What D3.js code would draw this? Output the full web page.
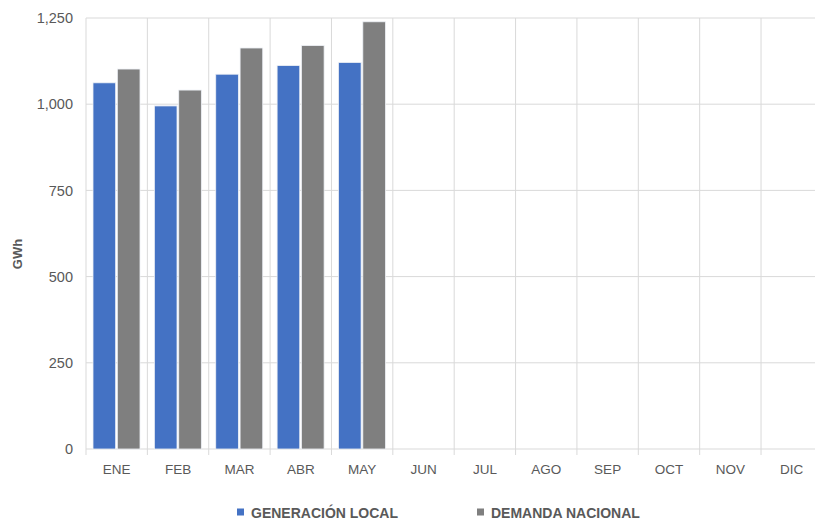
<!DOCTYPE html>
<html>
<head>
<meta charset="utf-8">
<script src="https://cdn.jsdelivr.net/npm/d3@7"></script>
<style>
  body { margin: 0; background: #fff; }
  svg { display: block; font-family: "Liberation Sans", Arial, sans-serif; }
  .tick text { fill: #595959; }
</style>
</head>
<body>
<svg id="chart"></svg>
<script>
const months = ["ENE","FEB","MAR","ABR","MAY","JUN","JUL","AGO","SEP","OCT","NOV","DIC"];
const series = ["GENERACIÓN LOCAL","DEMANDA NACIONAL"];
const generacion = [1062, 995, 1087, 1112, 1121];
const demanda = [1102, 1041, 1163, 1170, 1239];
const yTicks = [0, 250, 500, 750, 1000, 1250];
const colors = ["#4472c4", "#7f7f7f"];

const w = 815, h = 520;
const plotLeft = 86, plotRight = 822.4, plotTop = 18, plotBottom = 449;

const svg = d3.select("#chart")
              .attr("width", w)
              .attr("height", h)

const x = d3.scaleBand()
            .domain(months)
            .range([plotLeft, plotRight]);

const x1 = d3.scaleBand()
             .domain(series)
             .range([7, 54])
             .paddingInner(0.07);

const y = d3.scaleLinear()
            .domain([0, 1250])
            .range([plotBottom, plotTop]);

// horizontal grid
svg.append("g")
   .selectAll("line")
   .data(yTicks)
   .enter()
   .append("line")
   .attr("x1", plotLeft)
   .attr("x2", w)
   .attr("y1", d => y(d))
   .attr("y2", d => y(d))
   .attr("stroke", "#d9d9d9")
   .attr("stroke-width", 1);

// vertical grid between months
svg.append("g")
   .selectAll("line")
   .data(months)
   .enter()
   .append("line")
   .attr("x1", d => x(d))
   .attr("x2", d => x(d))
   .attr("y1", plotTop)
   .attr("y2", plotBottom + 6)
   .attr("stroke", "#d9d9d9")
   .attr("stroke-width", 1);

// y axis labels
const yAxis = svg.append("g")
   .attr("transform", "translate(" + (plotLeft - 13) + ",0)")
   .call(d3.axisLeft(y).tickValues(yTicks).tickFormat(d3.format(",")).tickSize(0).tickPadding(0));
yAxis.select(".domain").remove();
yAxis.selectAll("text").style("font-size", "14.5px");

// x axis labels
const xAxis = svg.append("g")
   .attr("transform", "translate(0," + plotBottom + ")")
   .call(d3.axisBottom(x).tickSize(0).tickPadding(15));
xAxis.select(".domain").remove();
xAxis.selectAll("text").style("font-size", "13.5px");

// bars
const rows = generacion.map((g, i) => ({month: months[i], values: [g, demanda[i]]}));

svg.append("g")
   .selectAll("g")
   .data(rows)
   .enter()
   .append("g")
   .attr("transform", d => "translate(" + x(d.month) + ",0)")
   .selectAll("rect")
   .data(d => d.values.map((v, j) => ({s: series[j], v: v, j: j})))
   .enter()
   .append("rect")
   .attr("x", d => x1(d.s))
   .attr("width", x1.bandwidth())
   .attr("y", d => y(d.v))
   .attr("height", d => y(0) - y(d.v))
   .attr("fill", d => colors[d.j])
   .attr("stroke", "#eef1f6")
   .attr("stroke-width", 0.8);

// y title
svg.append("text")
   .attr("transform", "translate(22,254) rotate(-90)")
   .attr("text-anchor", "middle")
   .attr("fill", "#595959")
   .style("font-size", "13px")
   .style("font-weight", "bold")
   .text("GWh");

// legend
const legendX = [237, 477];
const legend = svg.append("g")
   .selectAll("g")
   .data(series)
   .enter()
   .append("g")
   .attr("transform", (d, i) => "translate(" + legendX[i] + ",512)");

legend.append("rect")
      .attr("x", 0)
      .attr("y", -3.5)
      .attr("width", 7)
      .attr("height", 7)
      .attr("fill", (d, i) => colors[i]);

legend.append("text")
      .attr("x", 14)
      .attr("y", 5.5)
      .attr("fill", "#595959")
      .style("font-size", "14px")
      .style("font-weight", "bold")
      .text(d => d);
</script>
</body>
</html>
